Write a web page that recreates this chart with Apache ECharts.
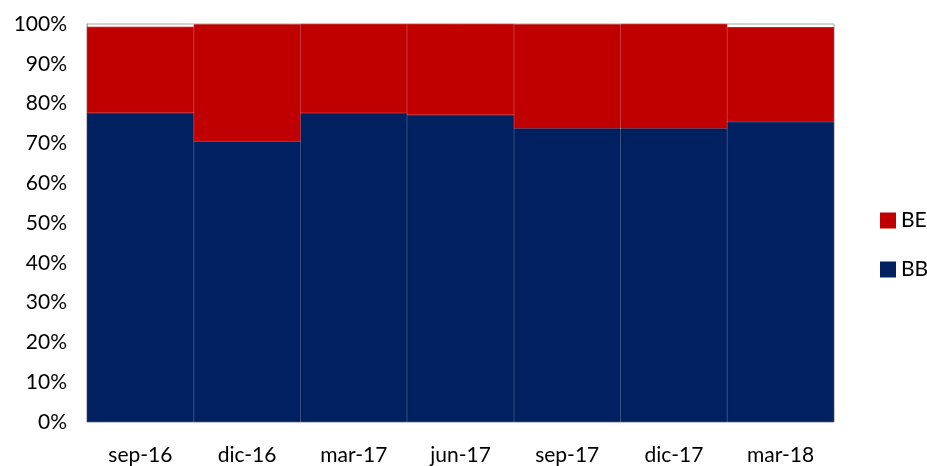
<!DOCTYPE html>
<html><head><meta charset="utf-8">
<script src="https://cdn.jsdelivr.net/npm/echarts@6/dist/echarts.min.js"></script>
<style>html,body{margin:0;padding:0;background:#fff}#c{width:927px;height:466px}</style>
</head><body><div id="c"></div>
<script>
const categories = ['sep-16','dic-16','mar-17','jun-17','sep-17','dic-17','mar-18'];
const bb = [77.7, 70.5, 77.6, 77.2, 73.8, 73.8, 75.4];
const be = [21.6, 29.4, 22.4, 22.8, 26.1, 26.2, 23.8];
const yTicks = [0,10,20,30,40,50,60,70,80,90,100];

const font = 'Lato, "Open Sans", sans-serif';
const chart = echarts.init(document.getElementById('c'));
chart.setOption({
  animation: false,
  grid: {left: 87, right: 93, top: 24, bottom: 41, show: true, borderColor: '#a6a6a6', borderWidth: 1, backgroundColor: 'transparent'},
  legend: {
    orient: 'vertical', left: 875, top: 205, itemGap: 28,
    itemWidth: 14, itemHeight: 14, icon: 'rect',
    data: ['BE','BB'],
    textStyle: {fontFamily: font, fontSize: 21, color: '#000', padding: [0,0,0,1]}
  },
  xAxis: {
    type: 'category', data: categories,
    axisLine: {show: false}, axisTick: {show: false},
    axisLabel: {fontFamily: font, fontSize: 21, color: '#000', margin: 23}
  },
  yAxis: {
    type: 'value', min: 0, max: 100, interval: 10,
    axisLine: {show: true, lineStyle: {color: '#a6a6a6'}}, axisTick: {show: false},
    splitLine: {show: false},
    axisLabel: {fontFamily: font, fontSize: 21, color: '#000', margin: 20,
      formatter: v => yTicks.includes(v) ? v + '%' : ''}
  },
  series: [
    {name: 'BB', type: 'bar', stack: 't', data: bb, barCategoryGap: '0%',
     itemStyle: {color: '#002060', borderColor: '#002060', borderWidth: 0.8}},
    {name: 'BE', type: 'bar', stack: 't', data: be, barCategoryGap: '0%',
     itemStyle: {color: '#C00000', borderColor: '#C00000', borderWidth: 0.8}}
  ]
});
</script></body></html>
